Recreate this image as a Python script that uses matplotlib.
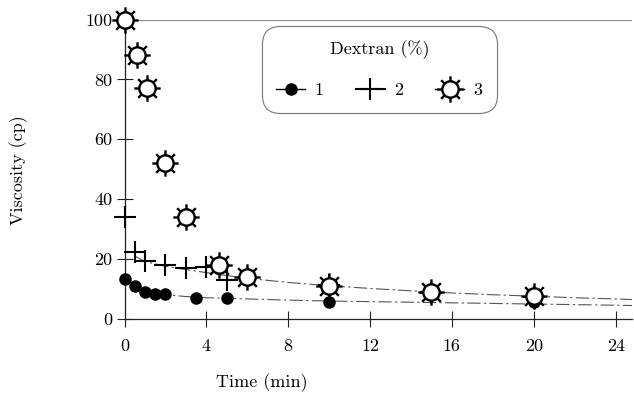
import numpy as np
import matplotlib
matplotlib.use("Agg")
import matplotlib.pyplot as plt
from matplotlib.path import Path
from matplotlib.lines import Line2D

# ---- data ----
t1 = [0, 0.5, 1, 1.5, 2, 3.5, 5, 10, 20]
v1 = [13.5, 11, 9, 8.3, 8.3, 7, 7, 5.8, 5.8]

t2 = [0, 0.5, 1, 2, 3, 4, 5, 10, 15, 20]
v2 = [34, 22.5, 19.5, 18, 17, 17.5, 13, 11.3, 8.7, 7.2]

t3 = [0, 0.6, 1.1, 2, 3, 4.6, 6, 10, 15, 20]
v3 = [100, 88, 77, 52, 34, 18, 14, 11, 9, 7.6]

fit_up_t = [0.5, 1, 2, 3, 4, 5, 6, 8, 10, 12, 14, 16, 18, 20, 22, 24, 24.8]
fit_up_v = [21, 19.2, 17.6, 16.5, 15.5, 14.5, 13.6, 12.2, 11.1, 10.2, 9.4, 8.7, 8.1, 7.6, 7.1, 6.7, 6.5]
fit_lo_t = [0.5, 1, 2, 3, 4, 5, 6, 8, 10, 12, 14, 16, 18, 20, 22, 24, 24.8]
fit_lo_v = [10, 9, 8.1, 7.5, 7.1, 6.9, 6.7, 6.3, 6.0, 5.8, 5.6, 5.4, 5.2, 5.0, 4.8, 4.6, 4.5]

xticks = [0, 4, 8, 12, 16, 20, 24]
yticks = [0, 20, 40, 60, 80, 100]
legend_labels = ["1", "2", "3"]

plt.rcParams['font.family'] = ['cmr10', 'DejaVu Serif']
plt.rcParams['mathtext.fontset'] = 'cm'
plt.rcParams['axes.unicode_minus'] = False

# sun marker: circle plus 8 spikes
circ = Path.unit_circle()
verts = list(circ.vertices * 0.62)
codes = list(circ.codes)
for k in range(8):
    a = k * np.pi / 4
    r0, r1 = 0.62, 1.0
    verts += [(r0 * np.cos(a), r0 * np.sin(a)), (r1 * np.cos(a), r1 * np.sin(a))]
    codes += [Path.MOVETO, Path.LINETO]
sun = Path(verts, codes)

fig = plt.figure(figsize=(6.34, 4.05), dpi=100)
ax = fig.add_axes([124.5 / 634, 86 / 405, (632 - 124.5) / 634, 299.5 / 405])
ax.set_xlim(0, 24.8)
ax.set_ylim(0, 100)

ax.plot(fit_up_t, fit_up_v, color='#555555', lw=0.8, ls=(0, (12, 3, 2, 3)), zorder=1)
ax.plot(fit_lo_t, fit_lo_v, color='#555555', lw=0.8, ls=(0, (12, 3, 2, 3)), zorder=1)
ax.axhline(100, color='#888888', lw=0.8, zorder=0)

ax.plot(t1, v1, ls='none', marker='o', ms=8, color='black', clip_on=False, zorder=3)
ax.plot(t2, v2, ls='none', marker='+', ms=16, mew=1.5, color='black', clip_on=False, zorder=4)
ax.plot(t3, v3, ls='none', marker=sun, ms=19, mew=1.7, mfc='white', mec='black',
        clip_on=False, zorder=5)

for s in ['top', 'right']:
    ax.spines[s].set_visible(False)
for s in ['left', 'bottom']:
    ax.spines[s].set_linewidth(0.9)
    ax.spines[s].set_color('#222222')

ax.set_xticks(xticks)
ax.set_yticks(yticks)
ax.tick_params(axis='both', direction='inout', length=11, width=0.8, colors='#222222',
               labelsize=13, labelcolor='black')
ax.tick_params(axis='x', pad=9)
ax.tick_params(axis='y', pad=3)
for lab in ax.get_xticklabels() + ax.get_yticklabels():
    lab.set_clip_on(False)

fig.text(262 / 634, 1 - 383 / 405, 'Time (min)', ha='center', va='center', fontsize=13)
fig.text(19 / 634, 1 - 170 / 405, 'Viscosity (cp)', ha='center', va='center',
         rotation=90, fontsize=13)

handles = [
    Line2D([], [], color='black', lw=1, marker='o', ms=8),
    Line2D([], [], color='black', lw=1.5, marker='+', ms=16, mew=1.5),
    Line2D([], [], color='black', lw=1, marker=sun, ms=19, mew=1.7, mfc='white', mec='black'),
]
leg = ax.legend(handles, legend_labels, title='Dextran (%)', ncol=3,
                loc='upper left', bbox_to_anchor=((262 - 124.5) / 507.5, (319 - 26) / 299.5),
                borderaxespad=0,
                frameon=True, fancybox=True, fontsize=13, title_fontsize=13,
                handlelength=1.6, handletextpad=0.5, columnspacing=1.8,
                borderpad=0.8, labelspacing=1.3)
leg.get_frame().set_edgecolor('#555555')
leg.get_frame().set_linewidth(0.8)
leg.get_frame().set_boxstyle('round,pad=0.0,rounding_size=1.0')

fig.savefig('out.png', dpi=100)
